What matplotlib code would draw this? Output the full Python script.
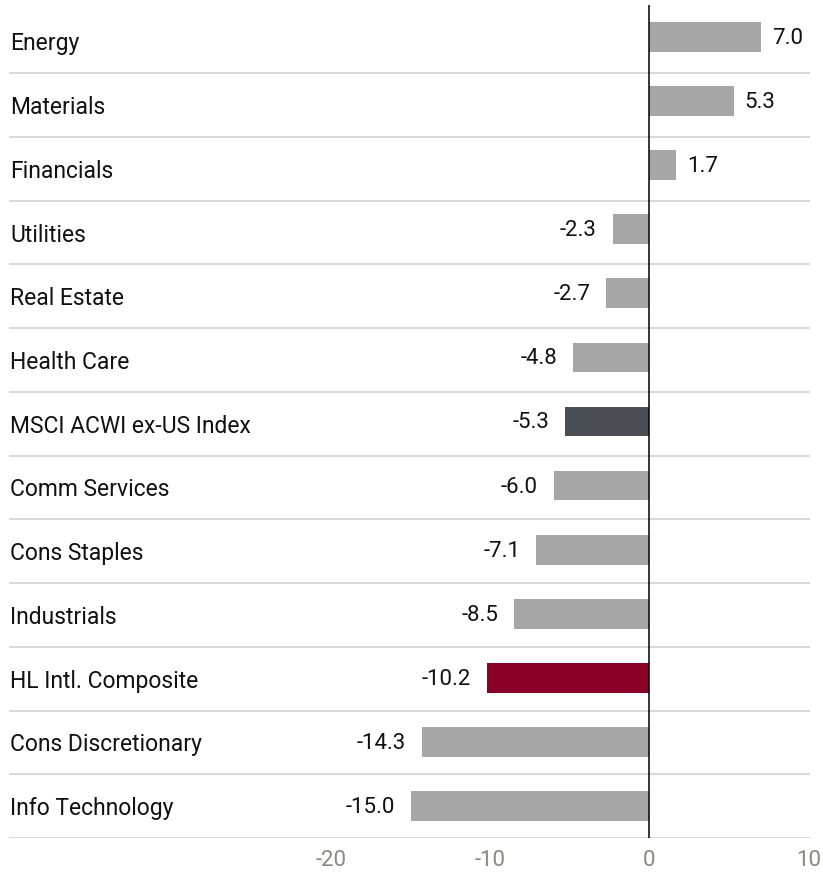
import numpy as np
import matplotlib.pyplot as plt
from matplotlib.transforms import blended_transform_factory, offset_copy

categories = ['Energy', 'Materials', 'Financials', 'Utilities', 'Real Estate',
              'Health Care', 'MSCI ACWI ex-US Index', 'Comm Services',
              'Cons Staples', 'Industrials', 'HL Intl. Composite',
              'Cons Discretionary', 'Info Technology']
values = [7.0, 5.3, 1.7, -2.3, -2.7, -4.8, -5.3, -6.0, -7.1, -8.5, -10.2, -14.3, -15.0]
bar_colors = ['#a6a6a6'] * 6 + ['#4b4e53'] + ['#a6a6a6'] * 3 + ['#8b0029'] + ['#a6a6a6'] * 2
xticks = [-20, -10, 0, 10]

plt.rcParams['font.family'] = ['Roboto', 'DejaVu Sans']

fig = plt.figure(figsize=(8.23, 8.77), dpi=100)
ax = fig.add_axes([9 / 823, 39 / 877, 801 / 823, 833 / 877])

n = len(categories)
pos = np.arange(n)
ax.barh(pos, values, height=0.465, color=bar_colors, zorder=2)

ax.set_xlim(-40.25, 10.1)
ax.set_ylim(n - 0.5, -0.5)

# row separators: a slightly tighter grid than the bars, ending at the bottom edge
seps = np.linspace(0.565, n - 0.5, n)
gap = seps[1] - seps[0]
for s in seps:
    ax.axhline(s, color='#d9d9d9', lw=1.5, zorder=1)
ax.axvline(0, color='black', lw=1.1, zorder=3)

# category labels, pinned to the left edge, centred in their rows
trans = blended_transform_factory(ax.transAxes, ax.transData)
trans = offset_copy(trans, fig=fig, x=1, y=-9, units='dots')
for s, name in zip(seps, categories):
    ax.text(0, s - gap / 2, name, transform=trans, ha='left', va='baseline',
            fontsize=16.5, color='#111111')

# value labels
for i, v in enumerate(values):
    if v >= 0:
        ax.annotate(f'{v:.1f}', (v, i), xytext=(11, -7), textcoords='offset pixels',
                    ha='left', va='baseline', fontsize=16, color='#111111')
    else:
        ax.annotate(f'{v:.1f}', (v, i), xytext=(-16, -7), textcoords='offset pixels',
                    ha='right', va='baseline', fontsize=16, color='#111111')

ax.set_xticks(xticks)
ax.set_xticklabels([str(t) for t in xticks], fontsize=16, color='#8c8782')
ax.tick_params(axis='x', length=0, pad=9)
ax.set_yticks([])
for sp in ax.spines.values():
    sp.set_visible(False)

fig.savefig('out.png', dpi=100)
